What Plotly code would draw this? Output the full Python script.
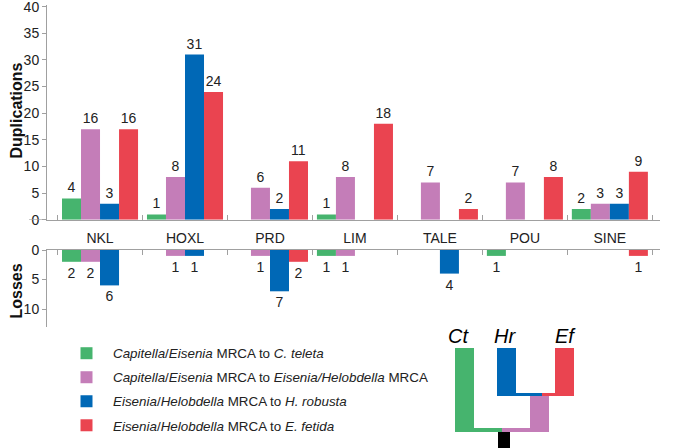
import plotly.graph_objects as go

categories = ["NKL", "HOXL", "PRD", "LIM", "TALE", "POU", "SINE"]
series_names = [
    "<i>Capitella</i>/<i>Eisenia</i> MRCA to <i>C. teleta</i>",
    "<i>Capitella</i>/<i>Eisenia</i> MRCA to <i>Eisenia/Helobdella</i> MRCA",
    "<i>Eisenia</i>/<i>Helobdella</i> MRCA to <i>H. robusta</i>",
    "<i>Eisenia</i>/<i>Helobdella</i> MRCA to <i>E. fetida</i>",
]
colors = ["#46B46E", "#C47DB8", "#0068B6", "#EA4450"]

# Duplications (bar heights as drawn, labels as printed)
dup_green = [4, 1, 0, 1, 0, 0, 2]
dup_pink = [17, 8, 6, 8, 7, 7, 3]
dup_blue = [3, 31, 2, 0, 0, 0, 3]
dup_red = [17, 24, 11, 18, 2, 8, 9]
dup_green_lbl = [4, 1, 0, 1, 0, 0, 2]
dup_pink_lbl = [16, 8, 6, 8, 7, 7, 3]
dup_blue_lbl = [3, 31, 2, 0, 0, 0, 3]
dup_red_lbl = [16, 24, 11, 18, 2, 8, 9]

# Losses
loss_green = [2, 0, 0, 1, 0, 1, 0]
loss_pink = [2, 1, 1, 1, 0, 0, 0]
loss_blue = [6, 1, 7, 0, 4, 0, 0]
loss_red = [0, 0, 2, 0, 0, 0, 1]

dup_ticks = [0, 5, 10, 15, 20, 25, 30, 35, 40]
loss_ticks = [0, 5, 10]

# ---- layout geometry (pixels) ----
W, H = 678, 448
L, R, T, B = 47, 18, 5, 0
PW, PH = W - L - R, H - T - B


def px(x):
    return (x - L) / PW


def py(y):
    return (H - B - y) / PH


dups = [dup_green, dup_pink, dup_blue, dup_red]
dup_lbls = [dup_green_lbl, dup_pink_lbl, dup_blue_lbl, dup_red_lbl]
losses = [loss_green, loss_pink, loss_blue, loss_red]

FONT = "Liberation Sans, Arial, sans-serif"
fig = go.Figure()
for i in range(4):
    fig.add_trace(go.Bar(
        x=categories, y=dups[i], name=series_names[i],
        marker=dict(color=colors[i], line=dict(width=0)),
        text=[str(v) if v else "" for v in dup_lbls[i]],
        textposition="outside", cliponaxis=False,
        textfont=dict(size=14, color="#222", family=FONT),
        xaxis="x", yaxis="y", legendgroup=f"g{i}", offsetgroup=str(i),
    ))
for i in range(4):
    fig.add_trace(go.Bar(
        x=categories, y=losses[i], name=series_names[i],
        marker=dict(color=colors[i], line=dict(width=0)),
        text=[str(v) if v else "" for v in losses[i]],
        textposition="outside", cliponaxis=False,
        textfont=dict(size=14, color="#222", family=FONT),
        xaxis="x2", yaxis="y2", showlegend=False, legendgroup=f"g{i}",
        offsetgroup=str(i),
    ))

top_dom = [py(219.7), 1]
bot_dom = [py(327), py(250)]
top_range = [0, 214.7 / 5.325]
bot_range = [77 / 5.9, 0]
xr = [-0.624, 6.59]
axcol = "#A0A0A0"

shapes = []
# small extension of top baseline to the left
shapes.append(dict(type="line", xref="paper", yref="y", x0=px(29), x1=px(47), y0=0, y1=0,
                   line=dict(color=axcol, width=1)))


def rect(x0, y0, x1, y1, c):
    shapes.append(dict(type="rect", xref="paper", yref="paper",
                       x0=px(x0), x1=px(x1), y0=py(y1), y1=py(y0),
                       fillcolor=c, line=dict(width=0), layer="above"))


# tree diagram
rect(455, 348, 474, 432, colors[0])
rect(474, 428, 502, 432, colors[0])
rect(502, 428, 530, 432, colors[1])
rect(530, 396, 549, 432, colors[1])
rect(497, 348, 516, 396, colors[2])
rect(516, 393, 542, 396, colors[2])
rect(542, 393, 555, 396, colors[3])
rect(555, 348, 574, 396, colors[3])
rect(498, 432, 510, 448, "#000000")

annotations = []
for lab, cx in [("Ct", 458), ("Hr", 505), ("Ef", 565)]:
    annotations.append(dict(text=f"<i>{lab}</i>", xref="paper", yref="paper",
                            x=px(cx), y=py(336), showarrow=False,
                            font=dict(size=20, color="#000", family=FONT),
                            xanchor="center", yanchor="middle"))
for lab, cy in [("Duplications", 111), ("Losses", 291)]:
    annotations.append(dict(text=f"<b>{lab}</b>", xref="paper", yref="paper",
                            x=px(15.5), y=py(cy), showarrow=False, textangle=-90,
                            font=dict(size=16, color="#111", family=FONT),
                            xanchor="center", yanchor="middle"))

fig.update_layout(
    template="none",
    width=W, height=H,
    margin=dict(l=L, r=R, t=T, b=B, autoexpand=False),
    paper_bgcolor="white", plot_bgcolor="white",
    barmode="group", bargap=0.105, bargroupgap=0,
    font=dict(family=FONT, size=14, color="#222"),
    showlegend=True,
    legend=dict(x=px(60), y=py(338), xanchor="left", yanchor="top",
                traceorder="grouped", tracegroupgap=3.6, itemwidth=43,
                font=dict(size=13.4, color="#222", family=FONT),
                bgcolor="rgba(0,0,0,0)", borderwidth=0),
    xaxis=dict(domain=[0, 1], range=xr, anchor="y", type="category", automargin=False,
               showline=True, linecolor=axcol, linewidth=1,
               ticks="inside", tickson="boundaries", ticklen=5, tickcolor=axcol,
               showgrid=False, zeroline=False, ticklabelstandoff=5,
               tickfont=dict(size=14, color="#222")),
    xaxis2=dict(domain=[0, 1], range=xr, anchor="y2", type="category", side="top",
                automargin=False,
                showline=True, linecolor=axcol, linewidth=1,
                ticks="inside", tickson="boundaries", ticklen=5, tickcolor=axcol,
                showgrid=False, zeroline=False, showticklabels=False),
    yaxis=dict(domain=top_dom, range=top_range, anchor="x", automargin=False,
               showline=True, linecolor=axcol, linewidth=1,
               ticks="outside", ticklen=4, tickcolor=axcol, ticklabeloverflow="allow",
               tickvals=dup_ticks, showgrid=False, zeroline=False,
               tickfont=dict(size=14, color="#222")),
    yaxis2=dict(domain=bot_dom, range=bot_range, anchor="x2", automargin=False,
                showline=True, linecolor=axcol, linewidth=1,
                ticks="outside", ticklen=4, tickcolor=axcol, ticklabeloverflow="allow",
                tickvals=loss_ticks, showgrid=False, zeroline=False,
                tickfont=dict(size=14, color="#222")),
    shapes=shapes,
    annotations=annotations,
)

fig.write_html("out.html", config={"displayModeBar": False},
               post_script="document.body.style.margin='0px';")
